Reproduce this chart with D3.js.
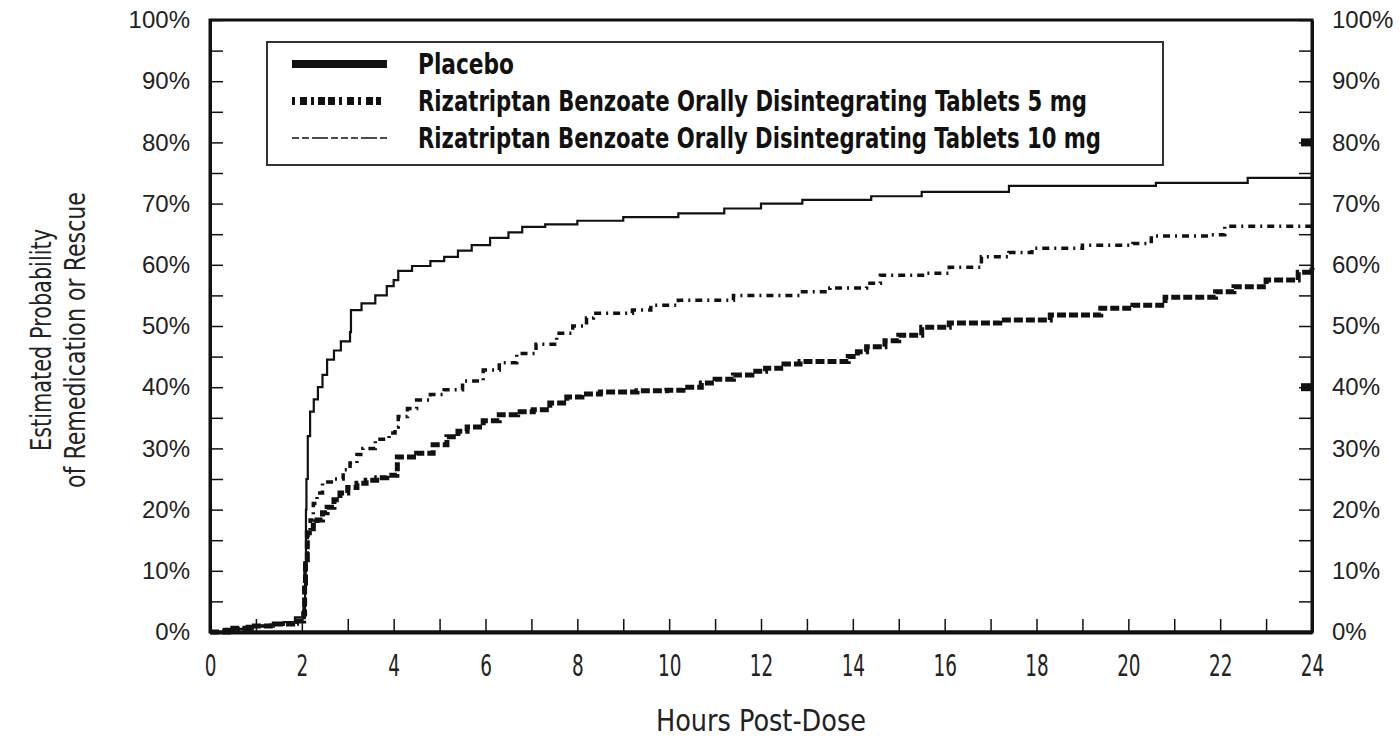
<!DOCTYPE html>
<html>
<head>
<meta charset="utf-8">
<script src="https://cdn.jsdelivr.net/npm/d3@7"></script>
<style>
  html, body { margin: 0; padding: 0; background: #fff; }
  svg { display: block; }
  .narrow { font-family: "Liberation Sans Narrow", "Arial Narrow", "DejaVu Sans Condensed", sans-serif; }
</style>
</head>
<body>
<svg id="chart" width="1400" height="736"></svg>
<script>
// Kaplan-Meier style step data: [hours post-dose, cumulative % remedicated]
const placebo = [
  [0,0],[0.3,0.5],[0.8,1.0],[1.3,1.2],[1.6,1.6],[1.85,2.4],[2.05,2.6],[2.07,10],[2.09,20],[2.10,25],
  [2.13,32],[2.18,36],[2.26,38],[2.35,40],[2.45,42],[2.55,44.5],[2.7,46],[2.85,47.5],[3.05,49],
  [3.07,52.6],[3.3,53.7],[3.6,55],[3.85,56.5],[4.0,57.5],[4.1,59],[4.4,59.8],[4.8,60.6],[5.1,61.3],
  [5.4,62.3],[5.7,63.2],[6.1,64.4],[6.5,65.3],[6.8,66.2],[7.3,66.6],[8.0,67.2],[9.0,67.8],[10.2,68.4],
  [11.2,69.2],[12.0,70],[12.9,70.6],[14.4,71.2],[15.5,71.9],[17.4,72.9],[20.6,73.4],[22.6,74.2],[24,74.2]
];
const riza5 = [
  [0,0],[0.5,0.5],[1.0,1.0],[1.5,1.3],[1.9,1.8],[2.05,5],[2.07,12],[2.12,16],[2.18,18.3],[2.25,21],
  [2.33,22.7],[2.45,24.5],[2.7,25],[2.9,26.5],[3.05,27.6],[3.2,29],[3.33,30],[3.6,31.5],[3.9,32.5],
  [4.03,33.5],[4.1,35.2],[4.3,36.5],[4.5,37.9],[4.8,38.8],[5.1,39.6],[5.5,41],[5.95,42.8],[6.3,44],
  [6.68,45.5],[7.1,47],[7.55,48.8],[7.9,50],[8.2,51.3],[8.35,52.1],[9.2,52.6],[9.6,53.4],[10.2,54.2],
  [11.4,55],[12.85,55.6],[13.5,56.2],[14.3,57],[14.6,58.3],[15.6,58.6],[16.1,59.6],[16.8,61.3],
  [17.4,62],[17.9,62.7],[19,63.2],[20.1,63.5],[20.5,64.7],[21.8,64.9],[22.1,66.3],[24,66.3]
];
const riza10 = [
  [0,0],[0.4,0.6],[0.9,1.0],[1.4,1.3],[1.8,1.8],[2.04,3],[2.06,8],[2.08,11.8],[2.12,16.2],[2.25,17.5],
  [2.33,18.3],[2.45,19.5],[2.55,20.4],[2.7,21.6],[2.83,22.7],[3.0,23.6],[3.2,24.3],[3.4,24.8],[3.63,25.2],
  [3.85,25.6],[4.07,26],[4.08,28.6],[4.5,29.2],[4.86,30.6],[5.16,31.9],[5.4,32.8],[5.6,33.5],[5.95,34.5],
  [6.3,35.5],[6.7,36],[7.04,36.3],[7.4,37.4],[7.77,38.4],[8.1,38.9],[8.5,39.2],[9.3,39.4],[9.95,39.5],
  [10.3,40],[10.7,40.7],[11.0,41.3],[11.4,42],[11.8,42.6],[12.1,43.1],[12.5,43.8],[12.85,44.2],[13.9,45],
  [14.1,45.8],[14.3,46.6],[14.7,47.6],[15.0,48.5],[15.5,49.8],[16.1,50.5],[17.2,51],[18.3,51.8],[19.4,52.9],
  [20.1,53.4],[20.8,54.7],[21.9,55.6],[22.3,56.4],[23.0,57.5],[23.7,58.8],[24,59.5]
];

const legendLabels = [
  "Placebo",
  "Rizatriptan Benzoate Orally Disintegrating Tablets 5 mg",
  "Rizatriptan Benzoate Orally Disintegrating Tablets 10 mg"
];
const hourTicks = d3.range(0, 25, 1);
const pctTicks = d3.range(0, 101, 5);
const heavyRightTicks = [40, 80];
const xTitle = "Hours Post-Dose";
const yTitle = ["Estimated Probability", "of Remedication or Rescue"];

const svg = d3.select("#chart");
const x = d3.scaleLinear().domain([0, 24]).range([210, 1312]);
const y = d3.scaleLinear().domain([0, 100]).range([632, 20]);

// plot frame
svg.append("rect")
  .attr("x", x(0)).attr("y", y(100))
  .attr("width", x(24) - x(0)).attr("height", y(0) - y(100))
  .attr("fill", "none").attr("stroke", "#111").attr("stroke-width", 3);

// bottom axis: ticks every hour, labels on even hours
const xAxis = svg.append("g")
  .attr("transform", `translate(0,${y(0)})`)
  .call(d3.axisBottom(x).tickValues(hourTicks).tickSizeInner(-13).tickSizeOuter(0)
    .tickFormat(d => d % 2 === 0 ? d : ""));
xAxis.select(".domain").attr("stroke", "#111").attr("stroke-width", 4);
xAxis.selectAll(".tick line").attr("stroke", "#111").attr("stroke-width", 1.5);
xAxis.selectAll(".tick text")
  .attr("class", "narrow").attr("y", 33).attr("dy", "0.35em")
  .attr("font-size", 31).attr("fill", "#222")
  .attr("transform", "scale(0.66,1)");

// left axis
const yLeft = svg.append("g")
  .attr("transform", `translate(${x(0)},0)`)
  .call(d3.axisLeft(y).tickValues(pctTicks).tickSizeInner(-13).tickSizeOuter(0).tickPadding(20)
    .tickFormat(d => d % 10 === 0 ? d + "%" : ""));
yLeft.select(".domain").attr("stroke", "#111").attr("stroke-width", 3);
yLeft.selectAll(".tick line").attr("stroke", "#111").attr("stroke-width", 1.5);
yLeft.selectAll(".tick text")
  .attr("font-family", "'Liberation Sans', Arial, sans-serif")
  .attr("font-size", 24).attr("fill", "#222");

// right axis
const yRight = svg.append("g")
  .attr("transform", `translate(${x(24)},0)`)
  .call(d3.axisRight(y).tickValues(pctTicks).tickSizeInner(-13).tickSizeOuter(0).tickPadding(20)
    .tickFormat(d => d % 10 === 0 ? d + "%" : ""));
yRight.select(".domain").attr("stroke", "#111").attr("stroke-width", 3);
yRight.selectAll(".tick line").attr("stroke", "#111").attr("stroke-width", 1.5);
yRight.selectAll(".tick text")
  .attr("font-family", "'Liberation Sans', Arial, sans-serif")
  .attr("font-size", 24).attr("fill", "#222");

// heavier marks on the right axis
svg.append("g").selectAll("rect").data(heavyRightTicks).join("rect")
  .attr("x", x(24) - 11).attr("y", d => y(d) - 4)
  .attr("width", 11).attr("height", 8).attr("fill", "#111");

// curves
const line = d3.line().x(d => x(d[0])).y(d => y(d[1])).curve(d3.curveStepAfter);
const plot = svg.append("g");
plot.append("path").datum(riza10)
  .attr("d", line).attr("fill", "none").attr("stroke", "#111")
  .attr("stroke-width", 5).attr("stroke-dasharray", "9,3");
plot.append("path").datum(riza5)
  .attr("d", line).attr("fill", "none").attr("stroke", "#111")
  .attr("stroke-width", 3.5).attr("stroke-dasharray", "7,5,2,5");
plot.append("path").datum(placebo)
  .attr("d", line).attr("fill", "none").attr("stroke", "#111")
  .attr("stroke-width", 2.2);

// legend
const lg = svg.append("g");
lg.append("rect").attr("x", 267).attr("y", 42).attr("width", 896).attr("height", 123)
  .attr("fill", "#fff").attr("stroke", "#333").attr("stroke-width", 2);
const rowY = [64, 101, 138];
const sample = [
  { w: 8, dash: null },
  { w: 8, dash: "3,5,7,4,3,4,7,3,7,4,3,5,7,4,3,5,7" },
  { w: 1.5, dash: "7,3,7,3,16,3,7,3" }
];
sample.forEach((s, i) => {
  const l = lg.append("line").attr("x1", 292).attr("x2", 387)
    .attr("y1", rowY[i]).attr("y2", rowY[i])
    .attr("stroke", "#111").attr("stroke-width", s.w);
  if (s.dash) l.attr("stroke-dasharray", s.dash);
});
const legendWidths = [96, 669, 683];
lg.selectAll("text.leg").data(legendLabels).join("text")
  .attr("class", "narrow leg")
  .attr("x", 418).attr("y", (d, i) => rowY[i]).attr("dy", "0.35em")
  .attr("font-size", 29).attr("font-weight", "bold").attr("fill", "#111")
  .attr("textLength", (d, i) => legendWidths[i]).attr("lengthAdjust", "spacingAndGlyphs")
  .text(d => d);

// axis titles
svg.append("text").attr("class", "narrow")
  .attr("x", 761).attr("y", 720).attr("dy", "0.35em").attr("text-anchor", "middle")
  .attr("font-size", 30).attr("fill", "#222")
  .attr("textLength", 210).attr("lengthAdjust", "spacingAndGlyphs")
  .text(xTitle);
const yTitleLengths = [222, 296];
const yt = svg.append("g").attr("transform", "translate(0,340) rotate(-90)");
yt.selectAll("text").data(yTitle).join("text")
  .attr("class", "narrow")
  .attr("x", 0).attr("y", (d, i) => [41, 75][i]).attr("dy", "0.35em")
  .attr("text-anchor", "middle").attr("font-size", 29).attr("fill", "#222")
  .attr("textLength", (d, i) => yTitleLengths[i]).attr("lengthAdjust", "spacingAndGlyphs")
  .text(d => d);
</script>
</body>
</html>
